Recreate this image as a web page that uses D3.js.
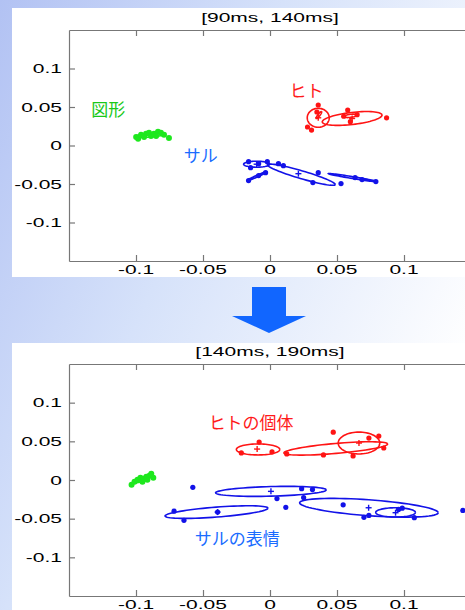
<!DOCTYPE html>
<html lang="ja">
<head>
<meta charset="utf-8">
<script src="https://cdn.jsdelivr.net/npm/d3@7"></script>
<style>
  body { margin: 0; }
  svg { display: block; }
</style>
</head>
<body>
<script>
    // shared ticks
    var xTicks = [-0.1, -0.05, 0, 0.05, 0.1];
    var yTicks = [0.1, 0.05, 0, -0.05, -0.1];
    var titles = ["[90ms, 140ms]", "[140ms, 190ms]"];

    // ---- panel 1: [90ms, 140ms] ----
    var p1Green = [[-0.0999, 0.0112], [-0.0984, 0.0087], [-0.0962, 0.0138], [-0.0925, 0.0151],
        [-0.0903, 0.0164], [-0.0888, 0.0125], [-0.0866, 0.0151], [-0.0836, 0.0177],
        [-0.0814, 0.0164], [-0.0791, 0.0138], [-0.0754, 0.0099], [-0.094, 0.0112], [-0.085, 0.0125]];
    var p1Red = [[0.036, 0.0526], [0.028, 0.024], [0.031, 0.020], [0.058, 0.046], [0.087, 0.036],
        [0.055, 0.038], [0.065, 0.040], [0.060, 0.031], [0.035, 0.0435]];
    var p1Blue = [[-0.016, -0.021], [-0.0145, -0.0288], [-0.0085, -0.0236], [0.0063, -0.0236],
        [0.010, -0.0262], [0.036, -0.0353], [0.032, -0.0482], [0.053, -0.0495], [-0.016, -0.0456],
        [-0.0085, -0.039], [-0.0033, -0.0353], [0.0635, -0.0417], [0.0687, -0.0443], [0.079, -0.0469],
        [-0.002, -0.021]];
    // ellipses: centre c, half axis vectors u and v (data units)
    var p1Ellipses = [
        {g: "red", c: [0.036, 0.036], u: [0.0082, 0], v: [0, 0.0123]},
        {g: "red", c: [0.0613, 0.0351], u: [0.0223, 0.0045], v: [0.0004, -0.0078]},
        {g: "red", c: [0.0365, 0.0395], u: [0.0019, 0.0045], v: [0.0008, -0.0004]},
        {g: "red", c: [0.060, 0.0385], u: [0.005, 0.001], v: [0, 0.002]},
        {g: "blue", c: [-0.010, -0.0243], u: [0.0097, 0], v: [0, 0.0039]},
        {g: "blue", c: [0.0234, -0.0379], u: [0.0253, -0.0129], v: [-0.0008, -0.0049]},
        {g: "blue", c: [-0.0097, -0.0398], u: [0.0074, 0.0058], v: [0.0006, -0.0008]},
        {g: "blue", c: [0.0617, -0.0417], u: [0.0182, -0.0052], v: [0.0002, 0.0012]},
        {g: "green", c: [-0.089, 0.0135], u: [0.011, 0.0015], v: [0, 0.0025]}
    ];
    var p1Centers = [{g: "red", p: [0.036, 0.036]}, {g: "red", p: [0.0613, 0.0351]},
        {g: "blue", p: [0.0212, -0.0366]}, {g: "blue", p: [-0.010, -0.0243]}];
    var p1Labels = [{g: "green", text: "図形", p: [-0.1334, 0.0384]},
        {g: "red", text: "ヒト", p: [0.0145, 0.0629]},
        {g: "blue", text: "サル", p: [-0.0643, -0.0211]}];

    // ---- panel 2: [140ms, 190ms] ----
    var p2Green = [[-0.1033, -0.006], [-0.1011, -0.0022], [-0.0989, 0.0004], [-0.0967, 0.0029],
        [-0.0945, 0.0017], [-0.0923, 0.0042], [-0.09, 0.0055], [-0.0886, 0.0081], [-0.0871, 0.0029],
        [-0.0952, -0.0022], [-0.0915, 0.0004]];
    var p2Red = [[-0.0081, 0.0491], [-0.0214, 0.035], [0.0015, 0.0363], [0.0472, 0.0619],
        [0.0399, 0.0324], [0.062, 0.0311], [0.0738, 0.0542], [0.0812, 0.0568], [0.0849, 0.0414],
        [0.0125, 0.0337]];
    var p2Blue = [[-0.0576, -0.0095], [0.0236, -0.0112], [0.0317, -0.0124], [0.0052, -0.024],
        [0.0251, -0.0227], [0.0118, -0.0355], [-0.0716, -0.0403], [-0.0642, -0.0522],
        [-0.0391, -0.0415], [0.0546, -0.0321], [0.0701, -0.0483], [0.0738, -0.0458],
        [0.1077, -0.0487], [0.0959, -0.0381], [0.0987, -0.0364], [0.1439, -0.0394]];
    var p2Ellipses = [
        {g: "red", c: [-0.0089, 0.0395], u: [0.0162, 0], v: [0, 0.0071]},
        {g: "red", c: [0.0491, 0.0408], u: [0.0387, 0.0058], v: [0.0003, -0.0064]},
        {g: "red", c: [0.0664, 0.0478], u: [0.0155, 0], v: [0, 0.0141]},
        {g: "blue", c: [0.0007, -0.0147], u: [0.0413, 0.0019], v: [0, 0.0062]},
        {g: "blue", c: [-0.0399, -0.0415], u: [0.0384, 0.0051], v: [0.0003, -0.0064]},
        {g: "blue", c: [0.0738, -0.0359], u: [0.0517, -0.0064], v: [0, 0.0103]},
        {g: "blue", c: [0.0937, -0.0419], u: [0.0148, 0], v: [0, 0.006]},
        {g: "green", c: [-0.095, 0.001], u: [0.007, 0.005], v: [0.001, -0.0015]}
    ];
    var p2Centers = [{g: "red", p: [-0.0096, 0.040]}, {g: "red", p: [0.0664, 0.0478]},
        {g: "blue", p: [0.0007, -0.0147]}, {g: "blue", p: [-0.0391, -0.0415]},
        {g: "blue", p: [0.0736, -0.0359]}, {g: "blue", p: [0.0937, -0.0423]}];
    var p2Labels = [{g: "red", text: "ヒトの個体", p: [-0.0458, 0.0658]},
        {g: "blue", text: "サルの表情", p: [-0.0561, -0.0842]}];

    var markColor = {red: "#ff1414", blue: "#1212e8", green: "#1ee81e"};
    var labelColor = {red: "#ff1a1a", blue: "#1a6cff", green: "#19c819"};

    var width = 465, height = 610;
    var stretch = 1.75; // the axis text of the original is stretched sideways

    var svg = d3.select("body").append("svg")
        .attr("width", width)
        .attr("height", height);

    var defs = svg.append("defs");
    var grad = defs.append("linearGradient")
        .attr("id", "bg")
        .attr("x1", "0%").attr("y1", "0%")
        .attr("x2", "100%").attr("y2", "60%");
    grad.append("stop").attr("offset", "0%").attr("stop-color", "#b2c2f3");
    grad.append("stop").attr("offset", "45%").attr("stop-color", "#d6e2fa");
    grad.append("stop").attr("offset", "100%").attr("stop-color", "#ffffff");

    svg.append("rect")
        .attr("width", width).attr("height", height)
        .attr("fill", "url(#bg)");

    // arrow between the two panels
    svg.append("polygon")
        .attr("points", "252,287 286,287 286,316 306,316 269,333 232,316 252,316")
        .attr("fill", "#1166ff");

    var panels = [
        {box: [12, 8, 470, 277], top: 30, bottom: 261, title: titles[0],
         green: p1Green, red: p1Red, blue: p1Blue, ellipses: p1Ellipses, centers: p1Centers, labels: p1Labels},
        {box: [12, 343, 470, 610], top: 364, bottom: 596, title: titles[1],
         green: p2Green, red: p2Red, blue: p2Blue, ellipses: p2Ellipses, centers: p2Centers, labels: p2Labels}
    ];

    panels.forEach(function (pn, k) {
        var g = svg.append("g");

        g.append("rect")
            .attr("x", pn.box[0]).attr("y", pn.box[1])
            .attr("width", pn.box[2] - pn.box[0])
            .attr("height", pn.box[3] - pn.box[1])
            .attr("fill", "#fff");

        var x = d3.scaleLinear().domain([-0.15, 0.15]).range([69, 471]);
        var y = d3.scaleLinear().domain([-0.15, 0.15]).range([pn.bottom, pn.top]);

        defs.append("clipPath").attr("id", "clip" + k)
            .append("rect")
            .attr("x", 69).attr("y", pn.top)
            .attr("width", 402).attr("height", pn.bottom - pn.top);

        // box with inward ticks on all sides (matlab style)
        var axisColor = "#777";
        var axes = [
            d3.axisBottom(x).tickValues(xTicks).tickSizeInner(-6).tickSizeOuter(0).tickFormat(""),
            d3.axisTop(x).tickValues(xTicks).tickSizeInner(-6).tickSizeOuter(0).tickFormat(""),
            d3.axisLeft(y).tickValues(yTicks).tickSizeInner(-6).tickSizeOuter(0).tickFormat(""),
            d3.axisRight(y).tickValues(yTicks).tickSizeInner(-6).tickSizeOuter(0).tickFormat("")
        ];
        var shifts = ["translate(0," + pn.bottom + ")", "translate(0," + pn.top + ")",
            "translate(69,0)", "translate(471,0)"];
        axes.forEach(function (ax, i) {
            var a = g.append("g").attr("transform", shifts[i]).call(ax);
            a.selectAll("path, line").attr("stroke", axisColor).attr("stroke-width", 1.2);
        });

        var fmt = function (d) { return d === 0 ? "0" : String(d); };

        g.selectAll(".xl").data(xTicks).enter().append("text")
            .attr("transform", function (d) {
                return "translate(" + x(d) + "," + (pn.bottom + 13) + ") scale(" + stretch + ",1)";
            })
            .attr("text-anchor", "middle")
            .attr("font-family", "Liberation Sans, Arial, sans-serif")
            .attr("font-size", 12)
            .text(fmt);

        g.selectAll(".yl").data(yTicks).enter().append("text")
            .attr("transform", function (d) {
                return "translate(62," + (y(d) + 4.5) + ") scale(" + stretch + ",1)";
            })
            .attr("text-anchor", "end")
            .attr("font-family", "Liberation Sans, Arial, sans-serif")
            .attr("font-size", 12)
            .text(fmt);

        g.append("text")
            .attr("transform", "translate(270," + (pn.top - 8) + ") scale(" + stretch + ",1)")
            .attr("text-anchor", "middle")
            .attr("font-family", "Liberation Sans, Arial, sans-serif")
            .attr("font-size", 12)
            .text(pn.title);

        var plot = g.append("g").attr("clip-path", "url(#clip" + k + ")");

        var line = d3.line()
            .x(function (d) { return x(d[0]); })
            .y(function (d) { return y(d[1]); });

        function ellipsePts(e) {
            return d3.range(0, 73).map(function (i) {
                var t = i / 72 * 2 * Math.PI;
                return [e.c[0] + Math.cos(t) * e.u[0] + Math.sin(t) * e.v[0],
                        e.c[1] + Math.cos(t) * e.u[1] + Math.sin(t) * e.v[1]];
            });
        }

        plot.selectAll(".ell").data(pn.ellipses).enter().append("path")
            .attr("d", function (e) { return line(ellipsePts(e)); })
            .attr("fill", "none")
            .attr("stroke", function (e) { return markColor[e.g]; })
            .attr("stroke-width", 1.6);

        ["green", "red", "blue"].forEach(function (grp) {
            plot.selectAll(".pt-" + grp).data(pn[grp]).enter().append("circle")
                .attr("cx", function (d) { return x(d[0]); })
                .attr("cy", function (d) { return y(d[1]); })
                .attr("r", grp === "green" ? 3 : 2.6)
                .attr("fill", markColor[grp]);
        });

        // centre markers "+"
        var plus = plot.selectAll(".ctr").data(pn.centers).enter().append("g")
            .attr("transform", function (d) { return "translate(" + x(d.p[0]) + "," + y(d.p[1]) + ")"; })
            .attr("stroke", function (d) { return markColor[d.g]; })
            .attr("stroke-width", 1.4);
        plus.append("line").attr("x1", -3).attr("x2", 3);
        plus.append("line").attr("y1", -3).attr("y2", 3);

        g.selectAll(".lab").data(pn.labels).enter().append("text")
            .attr("x", function (d) { return x(d.p[0]); })
            .attr("y", function (d) { return y(d.p[1]); })
            .attr("font-family", "Noto Sans CJK JP, sans-serif")
            .attr("font-size", 17)
            .attr("fill", function (d) { return labelColor[d.g]; })
            .text(function (d) { return d.text; });
    });
</script>
</body>
</html>
